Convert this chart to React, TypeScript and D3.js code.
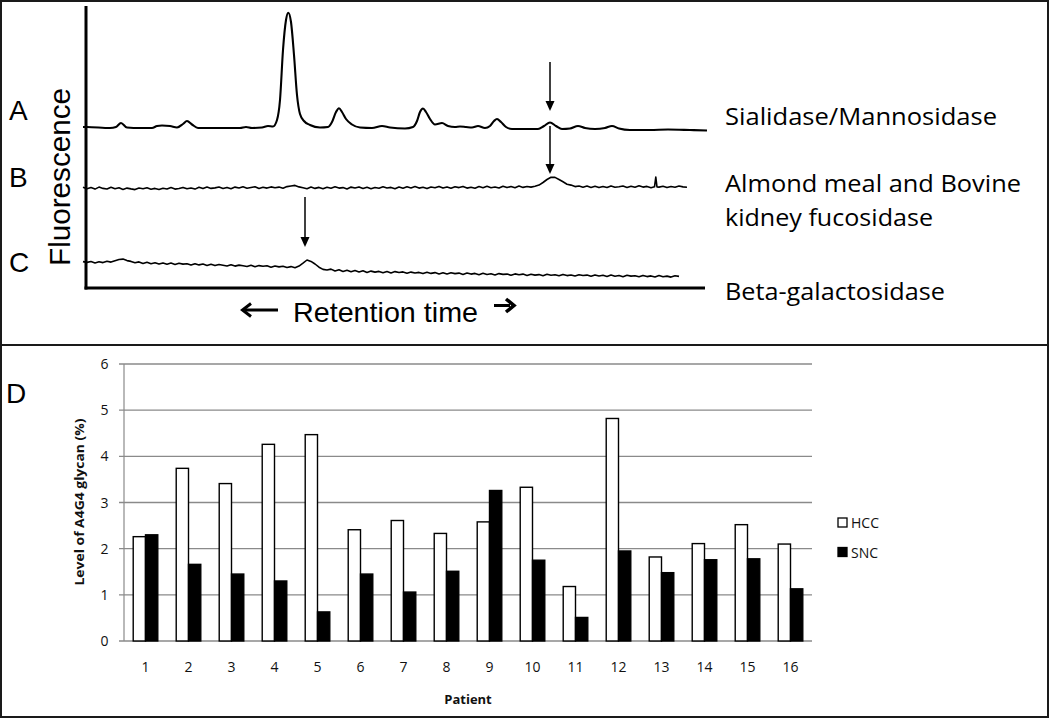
import React from 'react';
import * as d3 from 'd3';

// ---------- Panel D data ----------
const patients = ['1', '2', '3', '4', '5', '6', '7', '8', '9', '10', '11', '12', '13', '14', '15', '16'];
const hccValues = [2.26, 3.74, 3.41, 4.26, 4.47, 2.41, 2.61, 2.33, 2.58, 3.33, 1.18, 4.82, 1.82, 2.11, 2.52, 2.1];
const sncValues = [2.3, 1.66, 1.45, 1.3, 0.63, 1.45, 1.06, 1.51, 3.26, 1.75, 0.51, 1.95, 1.48, 1.76, 1.78, 1.13];
const seriesNames = ['HCC', 'SNC'];
const yTicksD = [0, 1, 2, 3, 4, 5, 6];

// ---------- Chromatogram data (retention time [min], fluorescence [a.u.]) ----------
const traceA: [number, number][] = [
  [-0.4, 163], [0, 163], [2.3, 162], [2.9, 163], [3.4, 167], [4.0, 162.5], [5.3, 162], [6.5, 162], [7.0, 164],
  [7.5, 164.5], [8.3, 164], [9.0, 162.5], [9.6, 166], [10.0, 169], [10.5, 165.5], [11.1, 162], [13.3, 162],
  [15.3, 162], [15.9, 163], [16.5, 162], [17.5, 162.5], [18.1, 164], [18.6, 163.5], [19.0, 170], [19.3, 190],
  [19.6, 240], [19.9, 270], [20.13, 277.3], [20.4, 268], [20.7, 235], [21.0, 195], [21.3, 176], [21.7, 169],
  [22.3, 165], [23.3, 162.5], [24.1, 163], [24.5, 168], [24.9, 178], [25.2, 181.7], [25.5, 178], [25.9, 171],
  [26.5, 165.5], [27.3, 162.5], [28.5, 162], [29.5, 164], [30.3, 162.5], [31.8, 161.5], [32.6, 163], [33.0, 169],
  [33.3, 178], [33.6, 181.5], [33.9, 178], [34.3, 171], [34.8, 165.5], [35.5, 167], [36.1, 164], [36.8, 163],
  [37.3, 163.5], [37.9, 163], [38.5, 162.5], [39.1, 164], [39.8, 162], [40.3, 164], [40.7, 169], [41.0, 171],
  [41.4, 168], [41.9, 163], [42.5, 161], [43.8, 161], [45.1, 161], [45.7, 164], [46.3, 167.5], [46.9, 164],
  [47.5, 161], [48.3, 161.5], [49.1, 164], [49.8, 162], [50.8, 161], [51.8, 162], [52.5, 164], [53.2, 161.5],
  [54.3, 160], [56.3, 160], [58.1, 160.5], [60.3, 160], [62.0, 159.5],
];

const traceBStart = -0.4;
const traceBStep = 0.4;
const traceBValues = [
  102.8, 101.2, 102.4, 100.9, 102.9, 101.6, 101.0, 102.7, 101.3, 102.2,
  100.6, 101.9, 101.1, 100.4, 102.0, 101.3, 102.3, 100.8, 101.6, 100.5,
  101.8, 101.0, 102.4, 100.9, 101.5, 102.6, 101.2, 102.0, 100.9, 102.8,
  101.4, 102.9, 101.6, 102.1, 103.0, 101.5, 102.6, 101.3, 102.9, 102.0,
  103.2, 101.7, 102.5, 103.3, 101.6, 102.8, 101.9, 103.1, 102.2, 102.9,
  101.8, 103.4, 104.0, 104.6, 103.1, 102.2, 101.3, 102.9, 101.6, 102.6,
  101.2, 102.8, 101.7, 103.2, 101.9, 102.4, 101.1, 102.9, 102.0, 103.1,
  101.5, 102.7, 101.2, 102.5, 101.8, 103.3, 102.0, 102.6, 101.3, 102.9,
  101.7, 103.2, 102.1, 103.4, 101.9, 102.8, 101.4, 103.0, 102.2, 103.6,
  101.9, 103.1, 101.7, 103.3, 102.4, 103.6, 101.9, 102.8, 101.8, 103.4,
  102.2, 103.7, 102.3, 103.0, 102.0, 103.8, 102.4, 103.5, 102.3, 103.9,
  102.6, 103.5, 102.9, 103.8, 104.9, 107.5, 110.5, 112.8, 112.6, 110.5,
  108.2, 105.8, 104.9, 103.4, 104.0, 102.8, 103.9, 102.6, 103.7, 102.4,
  103.5, 102.5, 104.1, 102.8, 103.2, 104.0, 102.6, 103.8, 102.7, 104.2,
  102.9, 103.6, 102.3, 103.9, 102.9, 103.7, 102.4, 103.5, 102.8, 104.0,
  103.1, 102.7,
];
const traceBSpike: [number, number][] = [[56.75, 103.2], [56.88, 113], [57.0, 103.0]];

const traceCStart = -0.4;
const traceCStep = 0.4;
const traceCValues = [
  28.4, 27.6, 28.5, 27.1, 28.2, 27.4, 28.8, 27.9, 29.3, 30.5,
  30.9, 29.4, 28.6, 27.2, 28.1, 26.5, 27.8, 26.3, 27.2, 25.9,
  27.1, 25.8, 26.9, 25.6, 26.8, 25.9, 26.2, 24.9, 26.3, 25.1,
  26.0, 24.6, 25.7, 24.4, 25.5, 24.8, 24.0, 25.3, 23.9, 24.9,
  24.2, 23.5, 24.8, 23.3, 24.4, 23.7, 24.3, 22.8, 24.0, 23.1,
  23.8, 22.5, 23.4, 22.3, 23.9, 26.8, 30.0, 28.6, 26.0, 22.8,
  20.6, 20.0, 20.9, 19.0, 20.2, 18.6, 19.8, 18.3, 19.5, 18.0,
  19.3, 17.6, 18.9, 17.9, 18.6, 17.3, 18.5, 17.1, 18.4, 17.5,
  18.1, 16.8, 17.9, 17.0, 17.6, 16.4, 17.7, 16.6, 17.4, 16.1,
  17.3, 16.0, 17.2, 16.4, 16.9, 15.6, 17.0, 15.9, 16.6, 15.3,
  16.7, 15.5, 16.2, 15.1, 16.4, 15.6, 15.9, 14.8, 16.1, 15.2,
  15.9, 14.6, 15.8, 14.9, 15.4, 14.3, 15.7, 14.8, 15.3, 14.2,
  15.6, 14.4, 15.0, 14.0, 15.3, 14.5, 14.9, 13.7, 15.1, 14.0,
  14.7, 13.5, 14.9, 13.8, 14.5, 13.3, 14.8, 13.9, 14.3, 13.2,
  14.6, 13.4, 14.1, 13.0, 14.4, 13.3, 13.9, 12.9, 14.2, 13.6,
];

const traceLetters = ['A', 'B', 'C'];
const traceNames = [['Sialidase/Mannosidase'], ['Almond meal and Bovine', 'kidney fucosidase'], ['Beta-galactosidase']];
// arrows: retention time, fluorescence start, fluorescence tip
const arrowMarks = [
  { t: 46.3, from: 228, to: 179 },
  { t: 46.3, from: 164, to: 116 },
  { t: 21.8, from: 93, to: 43 },
];

const W = 1050;
const H = 719;

function buildUniform(start: number, step: number, values: number[]): [number, number][] {
  return values.map((v, i) => [start + i * step, v] as [number, number]);
}

export default function App() {
  // ----- top panel scales -----
  const xTop = d3.scaleLinear().domain([0, 62]).range([87, 707]);
  const yTop = d3.scaleLinear().domain([0, 284]).range([290, 6]);
  const lineSmooth = d3.line<[number, number]>().x((d) => xTop(d[0])).y((d) => yTop(d[1])).curve(d3.curveMonotoneX);
  const lineRaw = d3.line<[number, number]>().x((d) => xTop(d[0])).y((d) => yTop(d[1]));

  const bPts = buildUniform(traceBStart, traceBStep, traceBValues)
    .filter((p) => p[0] < 56.7 || p[0] > 57.05)
    .concat(traceBSpike)
    .sort((a, b) => a[0] - b[0]);
  const cPts = buildUniform(traceCStart, traceCStep, traceCValues);

  // ----- bottom panel scales -----
  const xD = d3.scaleBand<string>().domain(patients).range([124, 812]).paddingInner(0).paddingOuter(0);
  const yD = d3.scaleLinear().domain([0, 6]).range([641, 364]);
  const bw = xD.bandwidth() / 3.5;

  const calibri = "'Open Sans', 'Noto Sans', sans-serif";
  const arial = "'Liberation Sans', Arial, sans-serif";

  const letterBaselines = [120, 187, 272];
  const nameBaselines = [[125], [191.5, 225.5], [300]];
  const nameLengths = [[272], [296], [220]];
  const nameLengths2 = [208];

  return (
    <svg width={W} height={H} style={{ position: 'absolute', left: 0, top: 0, background: '#fff' }}>
      <rect x={0} y={0} width={W} height={H} fill="#fff" />
      {/* panel borders */}
      <rect x={1} y={1} width={1047} height={716} fill="none" stroke="#1a1a1a" strokeWidth={2} />
      <line x1={0} x2={1049} y1={345} y2={345} stroke="#1a1a1a" strokeWidth={2} />

      {/* ===== Top panel ===== */}
      <path d={lineSmooth(traceA) || ''} fill="none" stroke="#000" strokeWidth={2.1} />
      <path d={lineRaw(bPts) || ''} fill="none" stroke="#000" strokeWidth={1.6} strokeLinejoin="round" />
      <path d={lineRaw(cPts) || ''} fill="none" stroke="#000" strokeWidth={1.6} strokeLinejoin="round" />

      {/* axes */}
      <line x1={86} x2={86} y1={6} y2={289.5} stroke="#000" strokeWidth={3} />
      <line x1={84.5} x2={705} y1={288} y2={288} stroke="#000" strokeWidth={3} />

      {/* arrows */}
      {arrowMarks.map((a, i) => {
        const x = xTop(a.t);
        const y0 = yTop(a.from);
        const y1 = yTop(a.to);
        return (
          <g key={i}>
            <line x1={x} x2={x} y1={y0} y2={y1 - 8} stroke="#000" strokeWidth={1.5} />
            <path d={`M${x - 4.5},${y1 - 10} L${x + 4.5},${y1 - 10} L${x},${y1} Z`} fill="#000" />
          </g>
        );
      })}

      {/* trace letters */}
      {traceLetters.map((l, i) => (
        <text key={l} x={9} y={letterBaselines[i]} fontFamily={arial} fontSize={28} fill="#000">
          {l}
        </text>
      ))}
      <text
        transform="translate(70,177) rotate(-90)"
        textAnchor="middle"
        fontFamily={arial}
        fontSize={29}
        textLength={178}
        lengthAdjust="spacingAndGlyphs"
        fill="#000"
      >
        Fluorescence
      </text>

      {/* trace names */}
      {traceNames.map((lines, i) =>
        lines.map((s, j) => (
          <text
            key={`${i}-${j}`}
            x={725}
            y={nameBaselines[i][j]}
            fontFamily={calibri}
            fontSize={23}
            textLength={j === 0 ? nameLengths[i][0] : nameLengths2[0]}
            lengthAdjust="spacingAndGlyphs"
            fill="#000"
          >
            {s}
          </text>
        ))
      )}

      {/* retention time label */}
      <line x1={278} x2={245} y1={310} y2={310} stroke="#000" strokeWidth={3} />
      <path d="M251,303.5 L242.5,310 L251,316.5" fill="none" stroke="#000" strokeWidth={3} />
      <text x={293} y={322} fontFamily={arial} fontSize={28.5} textLength={185} lengthAdjust="spacingAndGlyphs" fill="#000">
        Retention time
      </text>
      <line x1={494} x2={510} y1={305.5} y2={305.5} stroke="#000" strokeWidth={3} />
      <path d="M506,299 L514,305.5 L506,312" fill="none" stroke="#000" strokeWidth={3.5} />

      {/* ===== Bottom panel ===== */}
      <text x={6} y={403} fontFamily={arial} fontSize={28} fill="#000">
        D
      </text>

      {yTicksD.map((t) => (
        <g key={t}>
          <line x1={119} x2={812} y1={yD(t)} y2={yD(t)} stroke="#8a8a8a" strokeWidth={1.4} />
          <text x={108.5} y={yD(t)} dy="0.36em" textAnchor="end" fontFamily={calibri} fontSize={14} fill="#111">
            {t}
          </text>
        </g>
      ))}
      <line x1={124} x2={124} y1={yD(6)} y2={yD(0)} stroke="#8a8a8a" strokeWidth={1.2} />

      {patients.map((p, i) => {
        const c = (xD(p) || 0) + xD.bandwidth() / 2;
        return (
          <g key={p}>
            <rect x={c - bw} y={yD(hccValues[i])} width={bw} height={yD(0) - yD(hccValues[i])} fill="#fff" stroke="#000" strokeWidth={1.4} />
            <rect x={c} y={yD(sncValues[i])} width={bw} height={yD(0) - yD(sncValues[i])} fill="#000" stroke="#000" strokeWidth={1.4} />
            <text x={c} y={671.5} textAnchor="middle" fontFamily={calibri} fontSize={14} fill="#111">
              {p}
            </text>
          </g>
        );
      })}

      <text x={468} y={704} textAnchor="middle" fontFamily={calibri} fontWeight="bold" fontSize={13} fill="#111">
        Patient
      </text>
      <text
        transform="translate(84,502) rotate(-90)"
        textAnchor="middle"
        fontFamily={calibri}
        fontWeight="bold"
        fontSize={13}
        textLength={167}
        lengthAdjust="spacingAndGlyphs"
        fill="#111"
      >
        Level of A4G4 glycan (%)
      </text>

      {/* legend */}
      {seriesNames.map((s, i) => (
        <g key={s} transform={`translate(838,${518 + i * 29.5})`}>
          <rect x={0} y={0} width={9} height={9} fill={i === 0 ? '#fff' : '#000'} stroke="#000" strokeWidth={1.3} />
          <text x={13} y={10} fontFamily={calibri} fontSize={14} fill="#111">
            {s}
          </text>
        </g>
      ))}
    </svg>
  );
}
